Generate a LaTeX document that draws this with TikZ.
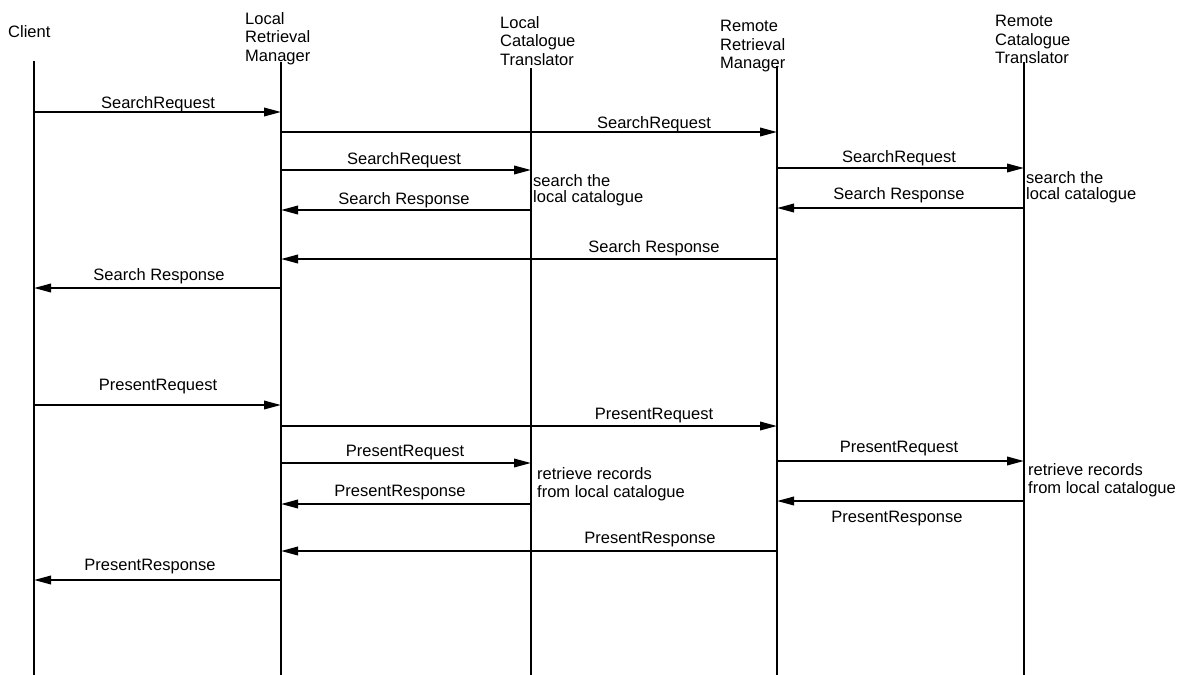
\documentclass[tikz,border=0pt]{standalone}
\usepackage{fontspec}
\setmainfont{Liberation Sans}
\usetikzlibrary{arrows.meta}
\begin{document}
\begin{tikzpicture}[x=1pt,y=-1pt,
  every node/.style={font=\fontsize{16.5}{18.5}\selectfont, inner sep=0pt},
  life/.style={line width=2.4pt},
  msg/.style={line width=2pt, -{Triangle[length=17pt,width=8.5pt]}},
  lbl/.style={anchor=base},
  head/.style={anchor=north west, align=left},
  note/.style={anchor=north west, align=left}]
\useasboundingbox (0,0) rectangle (1179,675);

% participants
\node[head] (hcl)  at (8,25)    {Client};
\node[head] (hlrm) at (245,12)  {Local\\Retrieval\\Manager};
\node[head] (hlct) at (500,16)  {Local\\Catalogue\\Translator};
\node[head] (hrrm) at (720,20)  {Remote\\Retrieval\\Manager};
\node[head] (hrct) at (995,15)  {Remote\\Catalogue\\Translator};

% lifelines
\coordinate (cl)  at (34,61);
\coordinate (lrm) at (281,62);
\coordinate (lct) at (531,68);
\coordinate (rrm) at (777,66);
\coordinate (rct) at (1024,62);
\foreach \p in {cl,lrm,lct,rrm,rct}
  \draw[life] (\p) -- (\p |- 0,675);

% search phase
\draw[msg] (cl |- 0,112) -- (lrm |- 0,112);
\node[lbl] (m1) at (158,108) {SearchRequest};
\draw[msg] (lrm |- 0,132) -- (rrm |- 0,132);
\node[lbl] (m2) at (654,128) {SearchRequest};
\draw[msg] (lrm |- 0,170) -- (lct |- 0,170);
\node[lbl] (m3) at (404,164) {SearchRequest};
\draw[msg] (rrm |- 0,168) -- (rct |- 0,168);
\node[lbl] (m4) at (899,162) {SearchRequest};
\node[note, font=\fontsize{16.5}{16}\selectfont] (n1) at (533,174) {search the\\local catalogue};
\node[note, font=\fontsize{16.5}{16.5}\selectfont] (n2) at (1026,171) {search the\\local catalogue};
\draw[msg] (lct |- 0,210) -- (lrm |- 0,210);
\node[lbl] (m5) at (404,204) {Search Response};
\draw[msg] (rct |- 0,208) -- (rrm |- 0,208);
\node[lbl] (m6) at (899,199) {Search Response};
\draw[msg] (rrm |- 0,259) -- (lrm |- 0,259);
\node[lbl] (m7) at (654,252) {Search Response};
\draw[msg] (lrm |- 0,288) -- (cl |- 0,288);
\node[lbl] (m8) at (159,280) {Search Response};

% present phase
\draw[msg] (cl |- 0,405) -- (lrm |- 0,405);
\node[lbl] (p1) at (158,390) {PresentRequest};
\draw[msg] (lrm |- 0,426) -- (rrm |- 0,426);
\node[lbl] (p2) at (654,419) {PresentRequest};
\draw[msg] (lrm |- 0,463) -- (lct |- 0,463);
\node[lbl] (p3) at (405,456) {PresentRequest};
\draw[msg] (rrm |- 0,461) -- (rct |- 0,461);
\node[lbl] (p4) at (899,452) {PresentRequest};
\node[note, font=\fontsize{16.5}{18}\selectfont] (n3) at (537,467) {retrieve records\\from local catalogue};
\node[note, font=\fontsize{16.5}{18}\selectfont] (n4) at (1028,463) {retrieve records\\from local catalogue};
\draw[msg] (lct |- 0,504) -- (lrm |- 0,504);
\node[lbl] (p5) at (400,496) {PresentResponse};
\draw[msg] (rct |- 0,501) -- (rrm |- 0,501);
\node[lbl] (p6) at (897,522) {PresentResponse};
\draw[msg] (rrm |- 0,551) -- (lrm |- 0,551);
\node[lbl] (p7) at (650,543) {PresentResponse};
\draw[msg] (lrm |- 0,580) -- (cl |- 0,580);
\node[lbl] (p8) at (150,570) {PresentResponse};
\end{tikzpicture}
\end{document}
